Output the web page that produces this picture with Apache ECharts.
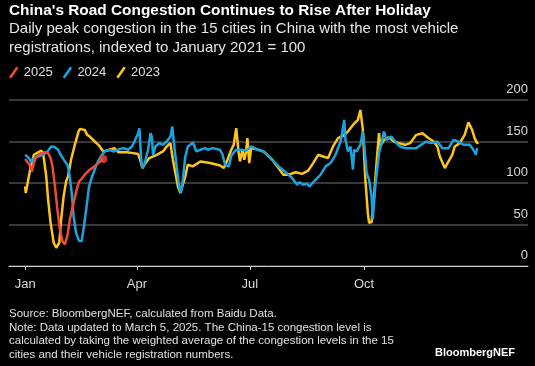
<!DOCTYPE html>
<html><head><meta charset="utf-8">
<script src="https://cdn.jsdelivr.net/npm/echarts@6/dist/echarts.min.js"></script>
<style>html,body{margin:0;padding:0;background:#000;}#c{width:535px;height:366px;}</style>
</head><body><div id="c"></div>
<script>
// x values are day-of-year (0 = Jan 1)
var days2025 = [0,1.5,3.5,5.5,7,9,12,16,18.5,20.5,22,24,26,28,30,32,34,36,39,41.5,43.5,45.5,48,52,56,59.5,63];
var vals2025 = [129,128,122,114,124,132,135,137,136,130,120,96,68,44,30,26,36,56,76,92,102,105,110,116,120,125,129];

var days2024 = [0,1,3,5,7,10.5,14.5,18,21,24,26.5,29,32,34,35.5,37.5,39,41,43.5,45.5,47,49.5,51.5,53.5,55,58,61,64,68,71,75,79,83,86,88,91,92,93.5,94.5,96,99,101,102,103,105,108,111,114,117,118.5,120,122,124,125.5,127,129,131,133,135,138,141,145,147,151,157,159,161,164,166,170,174,178,182,186,192,199,204,209,215,219,221,224,227,229,234,238,242,246,250,254,255,257,258,260,262,264,265,267,270,272,273,275,277,279,280,282,285,287,289,291,295,299,302,306,311,315,319,323,327,332,336,341,345,349,353,358,361,363,364];
var vals2024 = [134,136,130,125,130,132,134,138,144,143,140,133,126,122,112,88,60,40,30,30,44,72,96,106,112,124,132,138,140,138,140,142,140,144,150,160,166,128,118,122,140,160,156,134,144,148,146,150,156,168,146,120,96,88,104,132,144,146,149,138,140,142,140,142,140,134,122,120,133,140,140,139,144,141,138,128,120,114,106,98,101,98,99,96,104,110,120,124,134,150,158,176,152,138,144,116,140,138,146,162,148,112,104,84,56,96,136,148,162,152,156,148,144,142,142,142,146,150,148,150,142,142,152,150,146,146,140,134,142];

var days2023 = [0,0.5,2.5,4,7,10.5,13,14.5,17,18.5,20.5,23,25,27.5,29,31,33,34.5,37,40,43,44,48,50,52,56,59,63,68,72,75,82,87,91,93,94.5,96,100,106,111,114,117,119,121,123,125,126.5,129,131,135,141,149,157,160,163,166,168,170,172,173,175,176.5,178,179,180.5,182,186,192,199,204,208,212,218,223,228,232,236,240,244,248,252,256,260,264,268,270,272,274,276,277,279,281,283,285,286,289,293,297,301,306,310,315,320,325,329,332,334,338,341,344,346,350,354,357,360,362,364,365];
var vals2023 = [96,88,104,116,134,137,139,136,108,80,52,28,22,28,56,84,102,108,128,146,162,165,164,158,156,150,146,138,140,142,137,137,136,135,126,118,122,130,134,138,144,148,128,112,96,88,90,108,122,120,126,124,121,118,128,140,146,166,136,126,140,128,138,154,124,142,141,138,128,118,110,110,113,111,115,124,134,132,130,144,154,157,162,170,176,188,164,104,64,52,53,84,124,160,144,152,155,150,148,146,148,158,160,154,150,144,132,118,126,134,144,148,158,173,164,154,148,149];

var tickDays = [0,90,181,273];
var tickLabels = ['Jan','Apr','Jul','Oct'];

function pairs(d,v){return d.map(function(x,i){return [x,v[i]];});}

var RED='#ef4a36', BLUE='#1aa3de', YELLOW='#fcc41c';
var FONT='Liberation Sans';
var chart = echarts.init(document.getElementById('c'));
var slash='path://M0,10 L7,0 L9,1.4 L2,11.4 Z';
chart.setOption({
  backgroundColor:'#000',
  animation:false,
  textStyle:{fontFamily:FONT},
  title:[
    {text:"China's Road Congestion Continues to Rise After Holiday",left:9,top:3,padding:0,
     textStyle:{color:'#fff',fontSize:15.4,fontWeight:'bold',fontFamily:FONT}},
    {text:'Daily peak congestion in the 15 cities in China with the most vehicle\nregistrations, indexed to January 2021 = 100',left:9,top:20,padding:0,
     textStyle:{color:'#e6e6e6',fontSize:15,fontWeight:'normal',lineHeight:18.5,fontFamily:FONT}},
    {text:'Source: BloombergNEF, calculated from Baidu Data.\nNote: Data updated to March 5, 2025. The China-15 congestion level is\ncalculated by taking the weighted average of the congestion levels in the 15\ncities and their vehicle registration numbers.',left:9,top:307,padding:0,
     textStyle:{color:'#e0e0e0',fontSize:11.5,fontWeight:'normal',lineHeight:13.7,fontFamily:FONT}},
    {text:'BloombergNEF',right:20,top:347,padding:0,
     textStyle:{color:'#fff',fontSize:11,fontWeight:'bold',fontFamily:FONT}}
  ],
  legend:{left:9,top:66,padding:0,itemWidth:10,itemHeight:12,itemGap:10,
    textStyle:{color:'#e0e0e0',fontSize:13,fontFamily:FONT},
    data:[{name:'2025',icon:slash},{name:'2024',icon:slash},{name:'2023',icon:slash}]},
  grid:{left:9,right:7,top:100,bottom:100,containLabel:false},
  xAxis:{type:'value',min:-13,max:405,
    splitLine:{show:false},
    axisLine:{show:true,lineStyle:{color:'#cfcfcf',width:1}},
    axisTick:{show:true,length:4,lineStyle:{color:'#cfcfcf'},customValues:tickDays},
    axisLabel:{color:'#d8d8d8',fontSize:13,margin:12,customValues:tickDays,
      formatter:function(v){var i=tickDays.indexOf(v);return i>=0?tickLabels[i]:'';}}},
  yAxis:{type:'value',position:'right',min:0,max:200,interval:50,
    axisLine:{show:false},axisTick:{show:false},
    splitLine:{show:true,lineStyle:{color:'#4d4d4d',width:1.5}},
    axisLabel:{inside:true,align:'right',verticalAlign:'bottom',margin:0,padding:[0,0,4,0],
      color:'#d8d8d8',fontSize:13,showMinLabel:true,showMaxLabel:true}},
  series:[
    {name:'2023',type:'line',data:pairs(days2023,vals2023),showSymbol:false,symbol:'none',
     lineStyle:{color:YELLOW,width:2.5},itemStyle:{color:YELLOW},z:2},
    {name:'2024',type:'line',data:pairs(days2024,vals2024),showSymbol:false,symbol:'none',
     lineStyle:{color:BLUE,width:2.5},itemStyle:{color:BLUE},z:3},
    {name:'2025',type:'line',data:pairs(days2025,vals2025),showSymbol:false,symbol:'none',
     lineStyle:{color:RED,width:2.5},itemStyle:{color:RED},z:4},
    {name:'2025',type:'scatter',data:[[days2025[days2025.length-1],vals2025[vals2025.length-1]]],
     symbolSize:8,itemStyle:{color:RED},z:5}
  ]
});
</script></body></html>
